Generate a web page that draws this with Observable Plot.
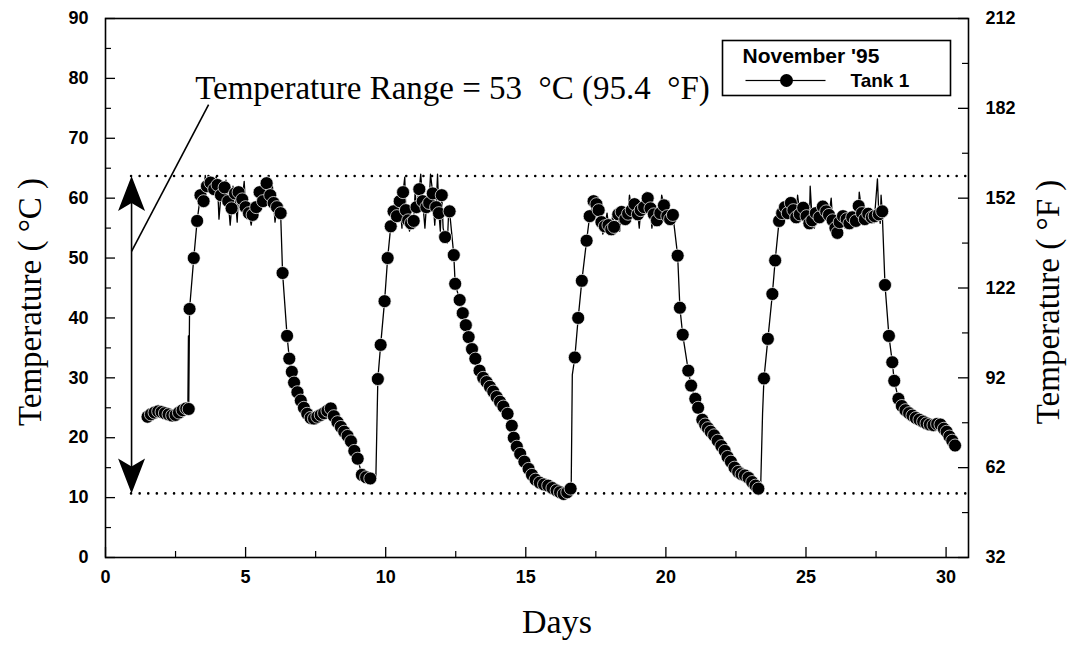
<!DOCTYPE html>
<html><head><meta charset="utf-8">
<script src="https://cdn.jsdelivr.net/npm/d3@7"></script>
<script src="https://cdn.jsdelivr.net/npm/@observablehq/plot@0.6"></script>
<style>body{margin:0;background:#fff}#chart{width:1073px;height:656px}</style>
</head><body><div id="chart"></div>
<script>
// ---- data ----
const days = [
 1.5,1.62,1.75,1.88,2.0,2.12,2.25,2.38,2.5,2.62,2.75,2.88,2.97,
 3.0,3.15,3.27,3.39,
 3.5,3.62,3.75,3.88,4.0,4.12,4.25,4.38,4.5,4.62,4.75,4.88,5.0,5.12,5.25,5.38,5.5,5.62,5.75,5.88,6.0,6.12,6.25,
 6.32,6.48,6.56,6.65,6.73,6.85,6.97,7.08,7.2,7.32,7.44,7.56,7.68,7.8,7.92,8.04,8.15,8.28,8.4,8.52,8.64,8.76,8.88,9.0,9.15,9.3,9.45,
 9.72,9.82,9.96,10.07,10.18,10.28,
 10.4,10.5,10.62,10.72,10.8,10.9,11.0,11.1,11.2,11.32,11.45,11.55,11.68,11.8,11.9,12.0,12.12,12.28,
 12.43,12.48,12.64,12.75,12.86,12.96,13.08,13.2,13.35,13.48,13.6,13.72,13.84,13.96,14.08,14.2,14.35,14.5,14.57,14.68,14.8,14.95,15.1,15.22,15.35,15.5,15.65,15.8,15.95,16.1,16.22,16.35,16.48,16.6,
 16.75,16.87,17.0,17.17,17.28,
 17.42,17.52,17.6,17.7,17.82,17.95,18.05,18.15,18.3,18.42,18.55,18.65,18.78,18.88,19.0,19.1,19.22,19.35,19.45,19.57,19.68,19.8,19.93,20.05,20.15,20.25,
 20.42,20.5,20.6,20.8,20.9,21.05,21.15,21.3,21.4,21.5,21.6,21.72,21.85,21.98,22.1,22.2,22.32,22.45,22.58,22.7,22.82,22.95,23.08,23.2,23.3,
 23.5,23.64,23.8,23.9,24.04,
 24.15,24.25,24.35,24.46,24.55,24.65,24.78,24.9,25.02,25.12,25.22,25.35,25.48,25.6,25.72,25.82,25.95,26.05,26.12,26.2,26.32,26.45,26.55,26.65,26.78,26.88,27.0,27.1,27.22,27.35,27.45,27.6,27.72,
 27.82,27.96,28.08,28.15,28.3,28.42,28.55,28.68,28.8,28.92,29.05,29.18,29.3,29.42,29.55,29.68,29.8,29.92,30.02,30.12,30.22,30.32
];
const tempsC = [
 23.5,23.9,24.2,24.4,24.3,24.1,23.9,23.7,23.8,24.2,24.6,24.9,24.8,
 41.5,50,56.2,60.5,
 59.5,62,62.6,61.5,62.2,60.5,61.8,59.5,58.3,60.8,61,59.8,58.5,57.5,57.2,58.5,61,59.5,62.5,60.5,59.2,58.5,57.5,
 47.5,37,33.2,31,29.2,27.6,26.2,25,24,23.3,23.2,23.5,23.8,24.1,24.5,24.9,23.6,22.6,21.8,21,20.3,19.4,17.8,16.5,13.8,13.4,13.2,
 29.8,35.5,42.8,50,55.3,57.8,
 57,59.5,61,58,56.3,55.8,56.2,58.5,61.5,59.5,58.5,59.2,60.8,58.5,57.5,60.5,53.5,57.8,
 50.5,45.7,43,40.8,38.8,36.8,34.8,33.2,31.2,30,29.3,28.5,27.7,26.8,26,25.2,24,22,20,18.5,17.3,16,14.8,13.8,13,12.5,12.2,12,11.6,11.2,10.9,10.6,10.9,11.5,
 33.4,40,46.2,52.9,57,
 59.5,59,58,56,55.3,55.5,54.8,55.2,57.3,57.7,56.5,57.4,58,59,57.3,58,58.5,60,58.3,57.3,56.3,57.5,58.8,57,56.5,57.2,
 50.4,41.7,37.2,31.2,28.7,26.5,25,23,22.2,21.6,21,20.4,19.5,18.6,17.8,16.8,16,15,14.3,13.9,13.7,13.3,12.6,12,11.5,
 29.9,36.5,44,49.6,56.2,
 57.5,58.5,57.5,59.2,58,56.8,57.3,58.4,57,55.8,56.3,57.5,56.8,58.6,57.8,57.2,56.3,55,54.2,56,57,56.5,55.8,56.8,56.2,58.7,57.5,56.5,57.4,56.8,57,57.3,57.8,
 45.5,37,32.6,29.5,26.5,25.3,24.6,24.1,23.7,23.3,23,22.7,22.4,22.2,22.1,22.3,22.2,21.5,21,20.2,19.5,18.7
];
// extra trace-only readings (the fast fluctuations on the plateaus)
const traceDays = [2.94,2.96, 3.56,3.95,4.05,4.3,4.45,4.55,4.7,4.95,5.2,5.45,5.95,6.05,
 9.6,9.65, 10.58,10.68,10.85,11.05,11.25,11.4,11.6,11.75,11.85,11.95,12.05,12.2,12.25,
 16.62,16.66, 17.75,17.9,18.1,18.35,18.7,19.05,19.3,19.5,19.85,20.1,
 23.38,23.45, 24.7,25.15,25.3,25.9,26.4,26.9,27.55,27.65,27.68];
const traceTemps = [25.2,37, 63.8,63.6,56.5,63,55.5,62,56,62.8,55.5,60,62.5,56,
 13.2,13.5, 55,63.5,54.5,61,64,55,64,55.5,64,54.5,55,52.5,58,
 11.6,30.5, 54,57.5,57.2,54.5,60.5,55,61,55,60.5,59.5,
 11.3,24, 60.5,62,55,60,55,61,63.2,55.8,60.5];

const xTicks = [0, 5, 10, 15, 20, 25, 30];
const xMinorTicks = [2.5, 7.5, 12.5, 17.5, 22.5, 27.5];
const yTicksC = [0, 10, 20, 30, 40, 50, 60, 70, 80, 90];
const yMinorTicksC = [5, 15, 25, 35, 45, 55, 65, 75, 85];
const rightTicksF = [32, 62, 92, 122, 152, 182, 212];
const rightMinorTicksF = [47, 77, 107, 137, 167, 197];

const rangeTopC = 63.7, rangeBottomC = 10.7;
const rangeNote = "Temperature Range = 53\u00A0 \u00B0C (95.4\u00A0 \u00B0F)";
const legendTitle = "November '95";
const seriesName = "Tank 1";

// ---- layout ----
const W = 1073, H = 656;
const mL = 105, mR = 105, mT = 18, mB = 99;
const plotW = W - mL - mR, plotH = H - mT - mB;
const xMax = 30.8;
const arrowDay = 0.93;
const noteAnchor = {day: 3.2, temp: 78.3};
const leaderStart = {day: arrowDay, temp: 51.1}, leaderEnd = {day: 3.68, temp: 75.6};

const points = days.map((d, i) => ({day: d, temp: tempsC[i]}));
const trace = points.concat(traceDays.map((d, i) => ({day: d, temp: traceTemps[i]})))
  .sort((a, b) => a.day - b.day);

// right axis of the original: 32..212 spread over the same 0..90 span
const fToPos = f => (f - rightTicksF[0]) / (rightTicksF[rightTicksF.length - 1] - rightTicksF[0]) * yTicksC[yTicksC.length - 1];
const rightPos = rightTicksF.map(fToPos);
const rightMinorPos = rightMinorTicksF.map(fToPos);
const rightLabel = new Map(rightPos.map((p, i) => [p, String(rightTicksF[i])]));

const upHead = {draw(ctx) { ctx.moveTo(0, 0); ctx.lineTo(13.5, 35); ctx.lineTo(0, 27); ctx.lineTo(-13.5, 35); ctx.closePath(); }};
const downHead = {draw(ctx) { ctx.moveTo(0, 0); ctx.lineTo(13.5, -35); ctx.lineTo(0, -27); ctx.lineTo(-13.5, -35); ctx.closePath(); }};

const sans = "'Liberation Sans', Arial, sans-serif";
const serif = "'Liberation Serif', 'Times New Roman', serif";

const chart = Plot.plot({
  width: W, height: H,
  marginLeft: mL, marginRight: mR, marginTop: mT, marginBottom: mB,
  style: {fontFamily: sans, fontSize: "18px", fontWeight: "bold", color: "black", background: "white"},
  x: {domain: [0, xMax]},
  y: {domain: [0, 90]},
  marks: [
    Plot.frame({stroke: "black", strokeWidth: 1.6}),
    // ticks pointing inward
    Plot.tickX(xTicks, {x: d => d, insetTop: plotH - 10, strokeWidth: 1.3}),
    Plot.tickX(xMinorTicks, {x: d => d, insetTop: plotH - 6, strokeWidth: 1.2}),
    Plot.tickY(yTicksC, {y: d => d, insetRight: plotW - 10, strokeWidth: 1.3}),
    Plot.tickY(yMinorTicksC, {y: d => d, insetRight: plotW - 6, strokeWidth: 1.2}),
    Plot.tickY(rightPos, {y: d => d, insetLeft: plotW - 10, strokeWidth: 1.3}),
    Plot.tickY(rightMinorPos, {y: d => d, insetLeft: plotW - 6, strokeWidth: 1.2}),
    Plot.axisX(xTicks, {tickSize: 0, tickPadding: 13, label: null}),
    Plot.axisY(yTicksC, {anchor: "left", tickSize: 0, tickPadding: 17, label: null}),
    Plot.axisY(rightPos, {anchor: "right", tickSize: 0, tickPadding: 17, label: null, tickFormat: p => rightLabel.get(p)}),
    // range lines
    Plot.ruleY([rangeTopC, rangeBottomC], {x1: arrowDay, x2: xMax, stroke: "black", strokeWidth: 2.6, strokeDasharray: "0 8.6", strokeLinecap: "round"}),
    Plot.link([0], {x1: arrowDay, x2: arrowDay, y1: rangeBottomC + 4, y2: rangeTopC - 4, stroke: "black", strokeWidth: 1.6}),
    Plot.dot([rangeTopC], {x: arrowDay, y: d => d, symbol: upHead, fill: "black", stroke: null}),
    Plot.dot([rangeBottomC], {x: arrowDay, y: d => d, symbol: downHead, fill: "black", stroke: null}),
    Plot.link([0], {x1: leaderStart.day, y1: leaderStart.temp, x2: leaderEnd.day, y2: leaderEnd.temp, stroke: "black", strokeWidth: 1.6}),
    Plot.text([rangeNote], {x: noteAnchor.day, y: noteAnchor.temp, textAnchor: "start", lineAnchor: "middle", fontFamily: serif, fontSize: 33, fontWeight: "normal"}),
    // data
    Plot.line(trace, {x: "day", y: "temp", stroke: "black", strokeWidth: 1.3}),
    Plot.dot(points, {x: "day", y: "temp", r: 6.5, fill: "black", stroke: "white", strokeWidth: 0.7}),
    // legend
    Plot.frame({stroke: "black", strokeWidth: 1.6, fill: "white", insetLeft: 617, insetRight: 18, insetTop: 22, insetBottom: 462}),
    Plot.text([legendTitle], {frameAnchor: "top-left", dx: 637, dy: 38, textAnchor: "start", lineAnchor: "middle", fontSize: 21, fontFamily: sans, fontWeight: "bold"}),
    Plot.frame({fill: "black", stroke: null, insetLeft: 640, insetRight: plotW - 720, insetTop: 61.4, insetBottom: plotH - 62.6}),
    Plot.dot([0], {frameAnchor: "top-left", dx: 681, dy: 62, r: 6.5, fill: "black"}),
    Plot.text([seriesName], {frameAnchor: "top-left", dx: 745, dy: 62, textAnchor: "start", lineAnchor: "middle", fontSize: 19, fontFamily: sans, fontWeight: "bold"}),
    // axis titles
    Plot.text(["Temperature ( \u00B0C )"], {frameAnchor: "left", textAnchor: "middle", dx: -75, dy: 14, rotate: -90, fontFamily: serif, fontSize: 33, fontWeight: "normal"}),
    Plot.text(["Temperature ( \u00B0F )"], {frameAnchor: "right", textAnchor: "middle", dx: 80, dy: 14, rotate: -90, fontFamily: serif, fontSize: 33, fontWeight: "normal"}),
    Plot.text(["Days"], {frameAnchor: "bottom", textAnchor: "middle", dx: 20, dy: 75, fontFamily: serif, fontSize: 34, fontWeight: "normal"})
  ]
});
document.getElementById("chart").appendChild(chart);
</script></body></html>
